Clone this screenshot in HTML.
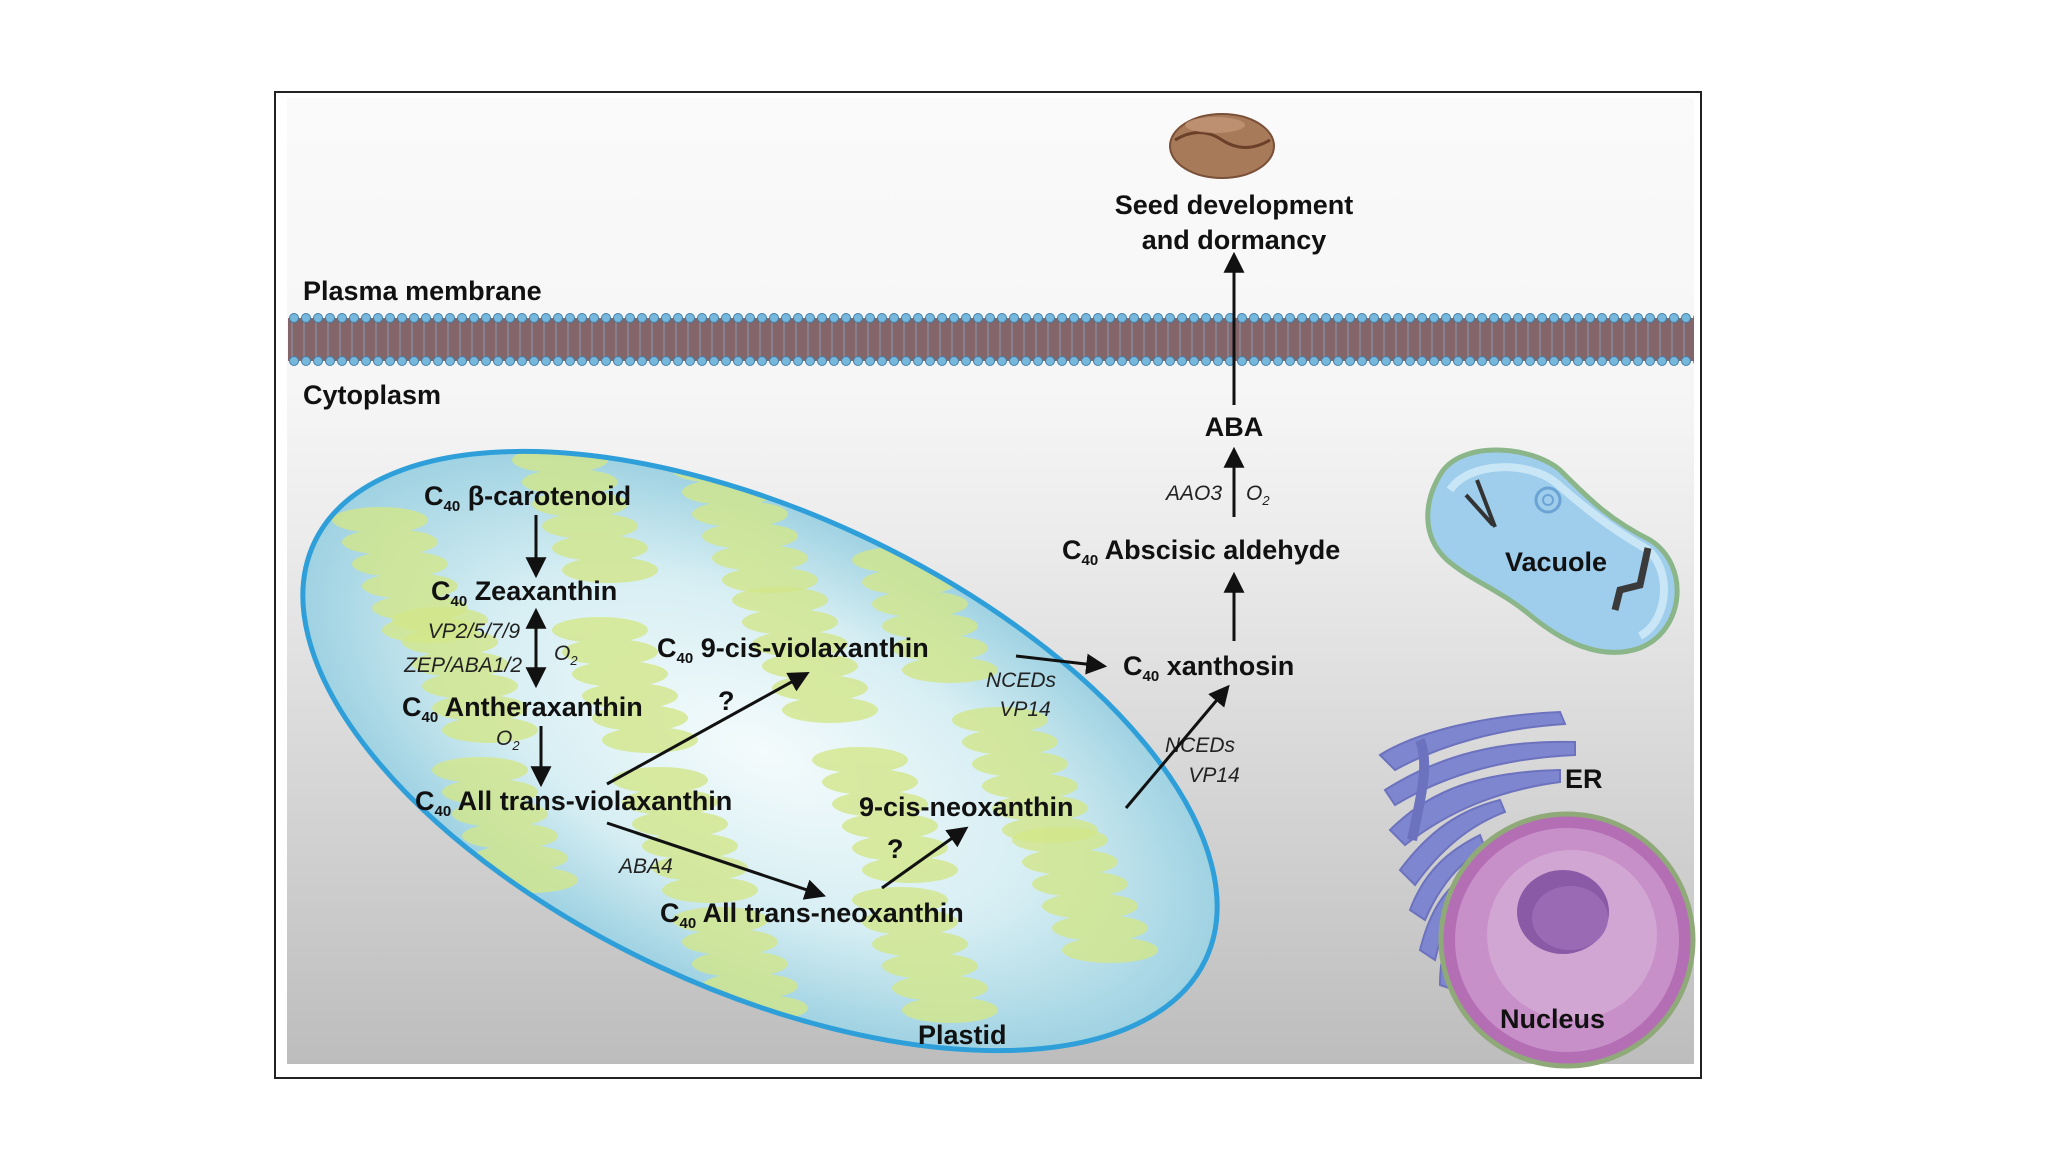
<!DOCTYPE html>
<html><head><meta charset="utf-8"><style>
html,body{margin:0;padding:0;background:#fff;width:2048px;height:1152px;overflow:hidden;}
svg{display:block;}
text{font-family:"Liberation Sans",Arial,sans-serif;}
.b{font-weight:bold;font-size:27px;fill:#111;}
.i{font-style:italic;font-size:21px;fill:#222;}
.s{font-size:15px;font-weight:bold;}
</style></head><body>
<svg width="2048" height="1152" viewBox="0 0 2048 1152" xmlns="http://www.w3.org/2000/svg">
<defs>
<linearGradient id="bg" x1="0" y1="0" x2="0" y2="1">
<stop offset="0" stop-color="#fafafa"/><stop offset="0.3" stop-color="#f6f6f6"/><stop offset="0.45" stop-color="#ececec"/><stop offset="1" stop-color="#bdbdbd"/>
</linearGradient>
<radialGradient id="pl" cx="0.5" cy="0.5" r="0.5">
<stop offset="0" stop-color="#f4fbfc"/><stop offset="0.6" stop-color="#d6eef3"/><stop offset="1" stop-color="#9fd2e2"/>
</radialGradient>
<pattern id="mem" x="0" y="312" width="12" height="55" patternUnits="userSpaceOnUse">
<rect x="0" y="6" width="12" height="43" fill="#84656a"/>
<line x1="4" y1="10" x2="4" y2="45" stroke="#8aa0b8" stroke-width="1.5" opacity="0.6"/>
<circle cx="6" cy="6" r="4.5" fill="#76b7dc" stroke="#3f7fa8" stroke-width="1"/>
<circle cx="6" cy="49" r="4.5" fill="#76b7dc" stroke="#3f7fa8" stroke-width="1"/>
</pattern>
<marker id="ar" viewBox="0 0 10 10" refX="8" refY="5" markerWidth="7" markerHeight="7" orient="auto-start-reverse">
<path d="M0,0 L10,5 L0,10 z" fill="#111"/>
</marker>
<clipPath id="pc"><ellipse cx="760" cy="751" rx="492" ry="238" transform="rotate(25 760 751)"/></clipPath>
<g id="st" fill="#d3e78a" opacity="0.8">
<ellipse cx="0" cy="0" rx="48" ry="13"/><ellipse cx="10" cy="22" rx="48" ry="13"/><ellipse cx="20" cy="44" rx="48" ry="13"/>
<ellipse cx="30" cy="66" rx="48" ry="13"/><ellipse cx="40" cy="88" rx="48" ry="13"/><ellipse cx="50" cy="110" rx="48" ry="13"/>
</g>
</defs>
<rect width="2048" height="1152" fill="#fff"/>
<rect x="275" y="92" width="1426" height="986" fill="#fff" stroke="#222" stroke-width="2"/>
<rect x="287" y="98" width="1407" height="966" fill="url(#bg)"/>
<!-- membrane -->
<rect x="288" y="312" width="1406" height="55" fill="url(#mem)"/>
<text x="303" y="300" class="b">Plasma membrane</text>
<text x="303" y="404" class="b">Cytoplasm</text>
<!-- seed -->
<ellipse cx="1222" cy="146" rx="52" ry="32" fill="#a77a5a" stroke="#7a5038" stroke-width="2"/>
<path d="M1175,140 Q1200,125 1222,140 Q1245,155 1270,140" fill="none" stroke="#6a4028" stroke-width="3"/>
<ellipse cx="1215" cy="125" rx="30" ry="8" fill="#c49a7a" opacity="0.7"/>
<text x="1234" y="214" class="b" text-anchor="middle">Seed development</text>
<text x="1234" y="249" class="b" text-anchor="middle">and dormancy</text>
<!-- plastid -->
<ellipse cx="760" cy="751" rx="492" ry="238" transform="rotate(25 760 751)" fill="url(#pl)"/>
<g clip-path="url(#pc)">
<use href="#st" x="560" y="460"/><use href="#st" x="720" y="470"/><use href="#st" x="440" y="620"/>
<use href="#st" x="600" y="630"/><use href="#st" x="780" y="600"/><use href="#st" x="900" y="560"/>
<use href="#st" x="480" y="770"/><use href="#st" x="660" y="780"/><use href="#st" x="860" y="760"/>
<use href="#st" x="1000" y="720"/><use href="#st" x="720" y="920"/><use href="#st" x="900" y="900"/>
<use href="#st" x="1060" y="840"/><use href="#st" x="380" y="520"/>
</g>
<ellipse cx="760" cy="751" rx="492" ry="238" transform="rotate(25 760 751)" fill="none" stroke="#2f9fda" stroke-width="5"/>
<text x="918" y="1044" class="b">Plastid</text>
<!-- pathway text -->
<g class="b">
<text x="424" y="505">C<tspan class="s" dy="6">40</tspan><tspan dy="-6"> β-carotenoid</tspan></text>
<text x="431" y="600">C<tspan class="s" dy="6">40</tspan><tspan dy="-6"> Zeaxanthin</tspan></text>
<text x="402" y="716">C<tspan class="s" dy="6">40</tspan><tspan dy="-6"> Antheraxanthin</tspan></text>
<text x="415" y="810">C<tspan class="s" dy="6">40</tspan><tspan dy="-6"> All trans-violaxanthin</tspan></text>
<text x="657" y="657">C<tspan class="s" dy="6">40</tspan><tspan dy="-6"> 9-cis-violaxanthin</tspan></text>
<text x="859" y="816">9-cis-neoxanthin</text>
<text x="660" y="922">C<tspan class="s" dy="6">40</tspan><tspan dy="-6"> All trans-neoxanthin</tspan></text>
<text x="1123" y="675">C<tspan class="s" dy="6">40</tspan><tspan dy="-6"> xanthosin</tspan></text>
<text x="1062" y="559">C<tspan class="s" dy="6">40</tspan><tspan dy="-6"> Abscisic aldehyde</tspan></text>
<text x="1234" y="436" text-anchor="middle">ABA</text>
<text x="718" y="710">?</text>
<text x="887" y="858">?</text>
</g>
<g class="i">
<text x="520" y="638" text-anchor="end">VP2/5/7/9</text>
<text x="522" y="672" text-anchor="end">ZEP/ABA1/2</text>
<text x="554" y="660">O<tspan font-size="13" dy="5">2</tspan></text>
<text x="496" y="745">O<tspan font-size="13" dy="5">2</tspan></text>
<text x="1021" y="687" text-anchor="middle">NCEDs</text>
<text x="1025" y="716" text-anchor="middle">VP14</text>
<text x="1200" y="752" text-anchor="middle">NCEDs</text>
<text x="1214" y="782" text-anchor="middle">VP14</text>
<text x="619" y="873">ABA4</text>
<text x="1222" y="500" text-anchor="end">AAO3</text>
<text x="1246" y="500">O<tspan font-size="13" dy="5">2</tspan></text>
</g>
<!-- arrows -->
<g stroke="#111" stroke-width="3" fill="none" marker-end="url(#ar)">
<line x1="536" y1="515" x2="536" y2="574"/>
<line x1="536" y1="612" x2="536" y2="684" marker-start="url(#ar)"/>
<line x1="541" y1="726" x2="541" y2="783"/>
<line x1="607" y1="784" x2="806" y2="674"/>
<line x1="1016" y1="656" x2="1103" y2="666"/>
<line x1="1126" y1="808" x2="1227" y2="688"/>
<line x1="607" y1="823" x2="822" y2="895"/>
<line x1="882" y1="888" x2="965" y2="829"/>
<line x1="1234" y1="641" x2="1234" y2="576"/>
<line x1="1234" y1="517" x2="1234" y2="451"/>
<line x1="1234" y1="405" x2="1234" y2="256"/>
</g>
<!-- vacuole -->
<path d="M1440,475 C1460,440 1530,445 1560,470 C1590,500 1610,520 1650,540 C1690,565 1685,630 1640,648 C1600,662 1560,640 1530,615 C1500,590 1470,580 1447,560 C1420,535 1425,500 1440,475 Z" fill="#9fcdec" stroke="#8ab68a" stroke-width="5"/>
<path d="M1450,490 C1470,460 1530,462 1555,482 C1585,508 1610,528 1645,548 C1672,566 1670,620 1640,636" fill="none" stroke="#c8e6f6" stroke-width="8"/>
<circle cx="1548" cy="500" r="12" fill="none" stroke="#6ba4d4" stroke-width="3"/><circle cx="1548" cy="500" r="5" fill="none" stroke="#6ba4d4" stroke-width="2"/>
<path d="M1477,480 L1495,527 M1466,495 L1493,525" stroke="#333" stroke-width="4"/>
<path d="M1648,548 L1640,585 L1620,590 L1615,610" stroke="#3a3a3a" stroke-width="7" fill="none"/>
<text x="1505" y="571" class="b">Vacuole</text>
<!-- ER -->
<g fill="#7f86d0" stroke="#6c72bd" stroke-width="2">
<path d="M1380,755 C1420,730 1490,715 1560,712 L1565,724 C1500,728 1440,745 1395,770 Z"/>
<path d="M1385,790 C1440,755 1500,740 1575,742 L1575,755 C1510,758 1450,772 1395,805 Z"/>
<path d="M1390,830 C1430,790 1480,772 1560,770 L1560,782 C1500,790 1450,810 1405,845 Z"/>
<path d="M1400,870 C1430,830 1460,810 1500,800 L1505,812 C1470,825 1440,850 1415,885 Z"/>
<path d="M1410,910 C1425,870 1450,850 1480,835 L1485,848 C1460,862 1440,885 1425,920 Z"/>
<path d="M1420,950 C1430,910 1445,890 1465,875 L1472,888 C1455,903 1443,925 1435,960 Z"/>
<path d="M1440,985 C1440,950 1450,925 1465,910 L1472,922 C1460,940 1455,960 1455,990 Z"/>
<path d="M1420,740 C1430,765 1420,800 1412,840" fill="none" stroke-width="10"/>
</g>
<text x="1565" y="788" class="b">ER</text>
<!-- nucleus -->
<circle cx="1567" cy="940" r="126" fill="#b46fb4" stroke="#8faa78" stroke-width="5"/>
<circle cx="1567" cy="940" r="112" fill="#c790c8"/>
<circle cx="1572" cy="935" r="85" fill="#d1a6d3"/>
<ellipse cx="1563" cy="912" rx="46" ry="42" fill="#8a5aa6"/>
<ellipse cx="1570" cy="918" rx="38" ry="32" fill="#9a6ab4"/>
<text x="1500" y="1028" class="b">Nucleus</text>
</svg>
</body></html>
